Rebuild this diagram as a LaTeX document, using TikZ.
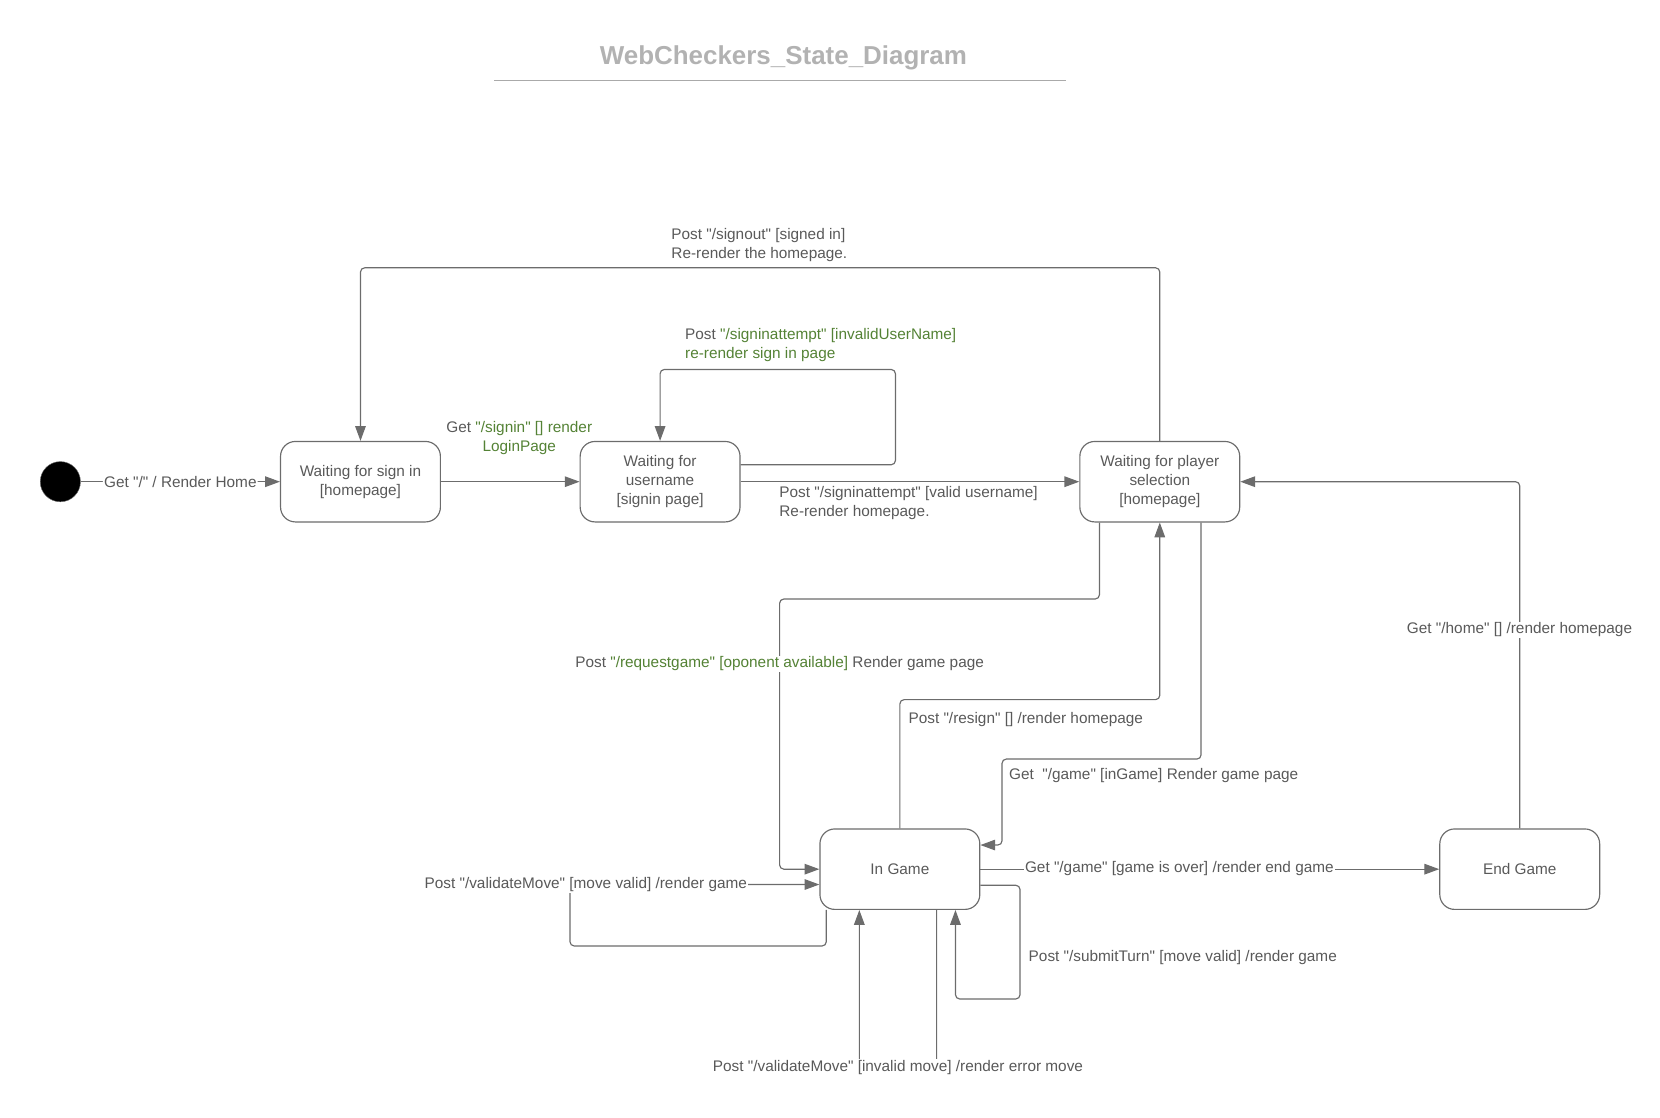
\documentclass[tikz,border=0pt]{standalone}
\usepackage{fontspec}
\setmainfont{Liberation Sans}[Ligatures=TeXOff]
\usetikzlibrary{arrows.meta,calc}
\definecolor{txtgray}{RGB}{89,89,89}
\definecolor{lgreen}{RGB}{84,130,53}
\definecolor{lngray}{RGB}{108,108,108}
\definecolor{ttlgray}{RGB}{178,178,178}
\definecolor{rulegray}{RGB}{170,170,170}
\newcommand{\grn}[1]{\textcolor{lgreen}{#1}}
\begin{document}
\begin{tikzpicture}[x=1pt,y=-1pt,
  state/.style={draw=lngray, line width=1.1pt, rounded corners=14pt, minimum width=151pt, minimum height=76pt, align=center, text=txtgray, font=\fontsize{14.5}{18}\selectfont, inner sep=2pt},
  lbl/.style={text=txtgray, font=\fontsize{14.5}{18}\selectfont, inner sep=1pt},
  onln/.style={lbl, fill=white},
  conn/.style={draw=lngray, line width=1.1pt, rounded corners=4pt, -{Triangle[length=14pt,width=10pt]}}
]
\useasboundingbox (0,0) rectangle (1568,1056);

% title
\node[font=\fontsize{24.5}{30}\selectfont\bfseries, text=ttlgray] (title) at (740,55) {WebCheckers\_State\_Diagram};
\draw[rulegray, line width=1.5pt] (467,76) -- (1007,76);

% states
\node[circle, fill=black, draw=lngray, minimum size=38pt, inner sep=0pt] (init) at (57,455) {};
\node[state] (A) at (340.5,455) {Waiting for sign in\\{[homepage]}};
\node[state] (B) at (623.5,455) {Waiting for\\username\\{[signin page]}};
\node[state] (C) at (1095.5,455) {Waiting for player\\selection\\{[homepage]}};
\node[state] (D) at (850,821) {In Game};
\node[state] (E) at (1435.5,821) {End Game};

% initial -> A
\draw[conn] (init) -- (A) node[onln, midway] {Get "/" / Render Home};

% A -> B
\draw[conn] (A) -- (B);
\node[lbl, align=center] at (490.5,414) {Get \grn{"/signin" [] render}\\\grn{LoginPage}};

% B self loop
\draw[conn] ([yshift=16pt]B.east) -| (845.8,349) -| (B.north);
\node[lbl, anchor=west, align=left] at (646,326) {Post \grn{"/signinattempt" [invalidUserName]}\\\grn{re-render sign in page}};

% B -> C
\draw[conn] (B) -- (C);
\node[lbl, anchor=west, align=left] at (735,475) {Post "/signinattempt" [valid username]\\Re-render homepage.};

% C -> A signout
\draw[conn] (C.north) -- ++(0,-163.5) -| (A.north);
\node[lbl, anchor=west, align=left] at (633,231.7) {Post "/signout" [signed in]\\Re-render the homepage.};

% C -> D requestgame
\draw[conn] ([xshift=-57pt]C.south) |- (736.4,565.8) |- (D.west);
\node[onln] at (736.4,627) {Post \grn{"/requestgame" [oponent available]} Render game page};

% D -> C resign
\draw[conn] (D.north) |- ([yshift=-167.3pt]C.south) -- (C.south);
\node[lbl, anchor=west] at (857,679.5) {Post "/resign" [] /render homepage};

% C -> D inGame
\draw[conn] ([xshift=39pt]C.south) |- (946.5,717) |- ([yshift=22.8pt]D.east);
\node[lbl, anchor=west] at (952,732.4) {Get\ \ "/game" [inGame] Render game page};

% D self loop validateMove valid
\draw[conn] ([xshift=-69.5pt]D.south) -- ++(0,34) -| (538.4,835.3) -- ([yshift=-14.5pt]D.west);
\node[onln] at (553.3,835.3) {Post "/validateMove" [move valid] /render game};

% D -> E
\draw[conn] (D.east) -- (E.west);
\node[onln] at (1114,820) {Get "/game" [game is over] /render end game};

% D self loop submitTurn
\draw[conn] ([yshift=-15.2pt]D.east) -| (963.5,943.6) -| ([xshift=52.5pt]D.south);
\node[lbl, anchor=west] at (970.5,904.6) {Post "/submitTurn" [move valid] /render game};

% D self loop validateMove invalid
\draw[conn] ([xshift=34.7pt]D.south) -- ++(0,148.4) -| ([xshift=-38.3pt]D.south);
\node[onln] at (848.2,1008) {Post "/validateMove" [invalid move] /render error move};

% E -> C
\draw[conn] (E.north) |- (C.east);
\node[onln] at (1435.3,595) {Get "/home" [] /render homepage};
\end{tikzpicture}
\end{document}
